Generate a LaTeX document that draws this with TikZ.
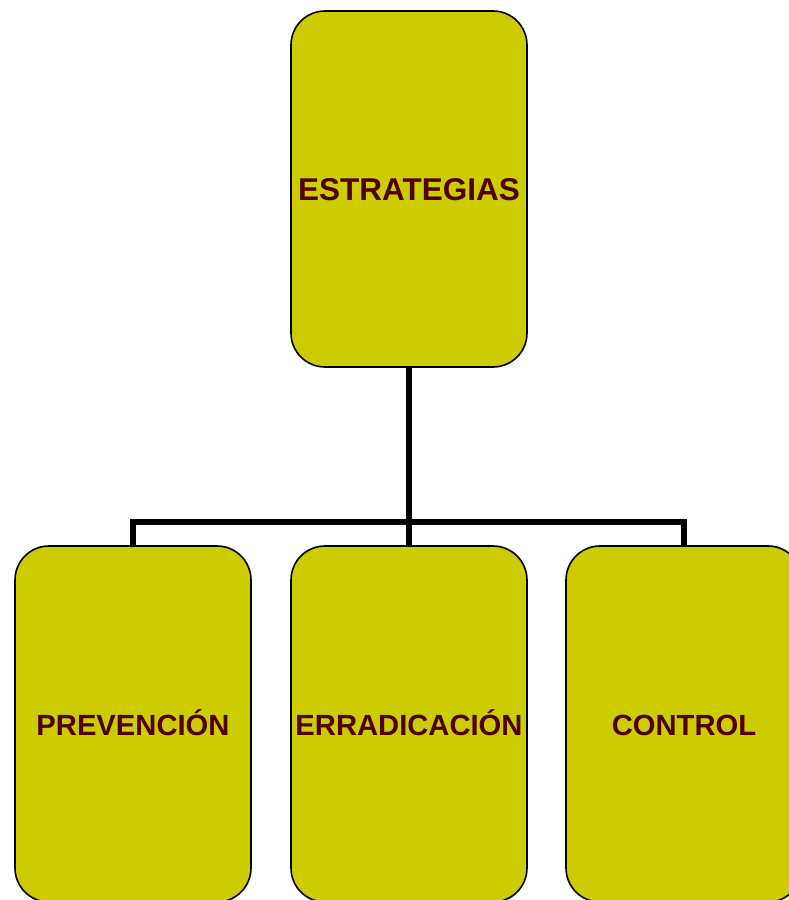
\documentclass[tikz,border=0pt]{standalone}
\usepackage{fontspec}
\setmainfont{Liberation Sans}
\definecolor{boxfill}{RGB}{204,204,0}
\definecolor{txt}{RGB}{80,0,0}
\begin{document}
\begin{tikzpicture}[x=1pt,y=-1pt,
  card/.style={draw=black,line width=1.6pt,fill=boxfill,rounded corners=34pt,
    minimum width=236pt,minimum height=356pt,inner sep=0pt,outer sep=0pt,
    text=txt,font=\fontsize{29.2}{34}\selectfont\bfseries,
    text height=29pt,text depth=7pt},
  topcard/.style={card,font=\fontsize{31.5}{36}\selectfont\bfseries,
    text height=23pt,text depth=0pt},
  link/.style={line width=6pt,line join=miter,draw=black}]
\useasboundingbox (0,0) rectangle (789,900);
\node[topcard] (top) at (409,189) {ESTRATEGIAS};
\node[card] (prev) at (133,724) {PREVENCIÓN};
\node[card] (erra) at (409,724) {ERRADICACIÓN};
\node[card] (ctrl) at (684,724) {CONTROL};
\coordinate (bus) at (409,522);
\draw[link] (top.south) -- (erra.north);
\draw[link] (prev.north) |- (bus) -| (ctrl.north);
\end{tikzpicture}
\end{document}
